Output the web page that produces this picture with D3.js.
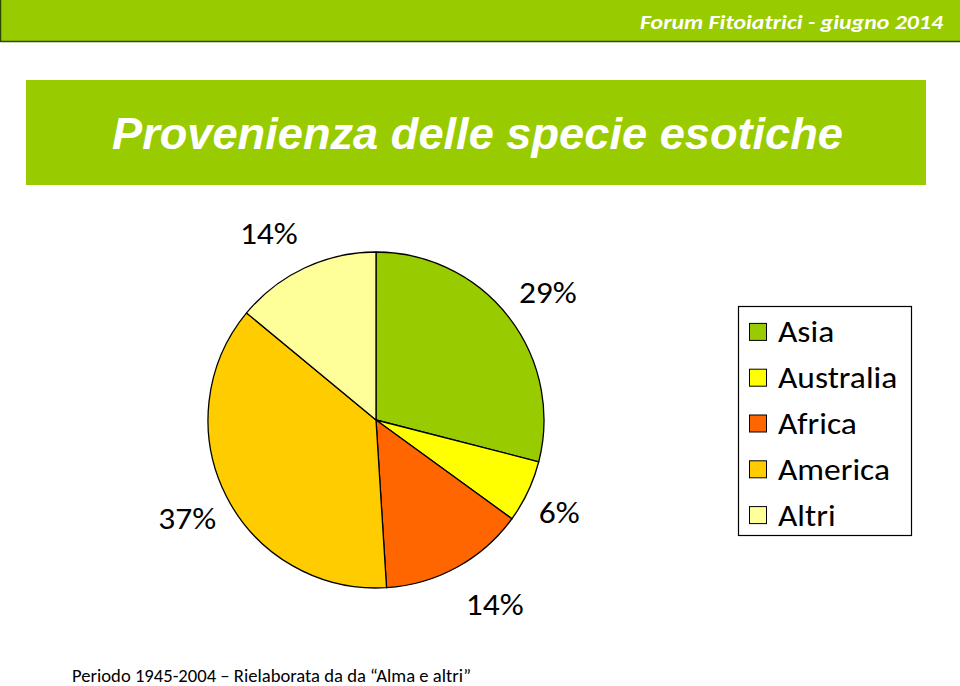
<!DOCTYPE html>
<html><head><meta charset="utf-8">
<script src="https://cdn.jsdelivr.net/npm/d3@7"></script>
<style>body{margin:0;background:#fff;}svg{display:block;}</style>
</head><body>
<svg id="c" width="960" height="686"></svg>
<script>
const categories = ["Asia", "Australia", "Africa", "America", "Altri"];
const values = [29, 6, 14, 37, 14];
const colors = ["#99CC00", "#FFFF00", "#FF6600", "#FFCC00", "#FFFF99"];
const labels = ["29%", "6%", "14%", "37%", "14%"];
const title = "Provenienza delle specie esotiche";
const header = "Forum Fitoiatrici - giugno 2014";
const footer = "Periodo 1945-2004 – Rielaborata da da “Alma e altri”";

const svg = d3.select("#c");
const calibri = "Carlito, Calibri, 'Open Sans', Lato, sans-serif";
const sx = 1.08; // horizontal stretch of the original slide

// header bar
svg.append("rect").attr("x", 0.5).attr("y", -1).attr("width", 962).attr("height", 42.5)
  .attr("fill", "#99CC00").attr("stroke", "#2f4a00").attr("stroke-width", 1.5);
svg.append("text").attr("x", 943).attr("y", 29).attr("text-anchor", "end")
  .attr("font-family", calibri).attr("font-style", "italic").attr("font-weight", "bold")
  .attr("font-size", 21).attr("fill", "#fff")
  .attr("textLength", 303).attr("lengthAdjust", "spacingAndGlyphs").text(header);

// title banner
svg.append("rect").attr("x", 26).attr("y", 80).attr("width", 900).attr("height", 105).attr("fill", "#99CC00");
svg.append("text").attr("x", 112).attr("y", 149)
  .attr("font-family", "'Liberation Sans', Arial, sans-serif").attr("font-style", "italic").attr("font-weight", "bold")
  .attr("font-size", 44).attr("fill", "#fff")
  .attr("textLength", 731).attr("lengthAdjust", "spacingAndGlyphs").text(title);

// pie
const cx = 376, cy = 420, r = 168;
const pie = d3.pie().sort(null).value(d => d)(values);
const arc = d3.arc().innerRadius(0).outerRadius(r);
const g = svg.append("g").attr("transform", `translate(${cx},${cy})`);
g.selectAll("path").data(pie).join("path")
  .attr("d", arc).attr("fill", (d, i) => colors[i])
  .attr("stroke", "#000").attr("stroke-width", 1.3).attr("stroke-linejoin", "round");

// labels outside (radius and angular nudge per slice)
const labelR = [214, 205, 219, 213, 215];
const labelNudge = [1.2, 1.5, -4, -0.6, -4.7];
g.selectAll("text").data(pie).join("text")
  .attr("transform", (d, i) => {
    const a = (d.startAngle + d.endAngle) / 2 + labelNudge[i] * Math.PI / 180;
    return `translate(${Math.sin(a) * labelR[i]},${-Math.cos(a) * labelR[i]}) scale(${sx},1)`;
  })
  .attr("text-anchor", "middle").attr("dominant-baseline", "central")
  .attr("font-family", calibri).attr("font-size", 31).attr("fill", "#000")
  .text((d, i) => labels[i]);

// legend
const lg = svg.append("g");
lg.append("rect").attr("x", 738.5).attr("y", 306.5).attr("width", 173).attr("height", 229)
  .attr("fill", "#fff").attr("stroke", "#000").attr("stroke-width", 1.2);
const ly = d3.scaleBand().domain(categories).range([309, 538]);
categories.forEach((c, i) => {
  const y = ly(c) + ly.bandwidth() / 2;
  lg.append("rect").attr("x", 749.5).attr("y", y - 8.5).attr("width", 17).attr("height", 17)
    .attr("fill", colors[i]).attr("stroke", "#000").attr("stroke-width", 1);
  lg.append("text").attr("transform", `translate(778,${y}) scale(${sx},1)`).attr("dominant-baseline", "central")
    .attr("font-family", calibri).attr("font-size", 31).attr("fill", "#000").text(c);
});

// footer
svg.append("text").attr("x", 72).attr("y", 681.5)
  .attr("font-family", calibri).attr("font-size", 18.5).attr("fill", "#000")
  .attr("textLength", 399).attr("lengthAdjust", "spacingAndGlyphs").text(footer);
</script>
</body></html>
